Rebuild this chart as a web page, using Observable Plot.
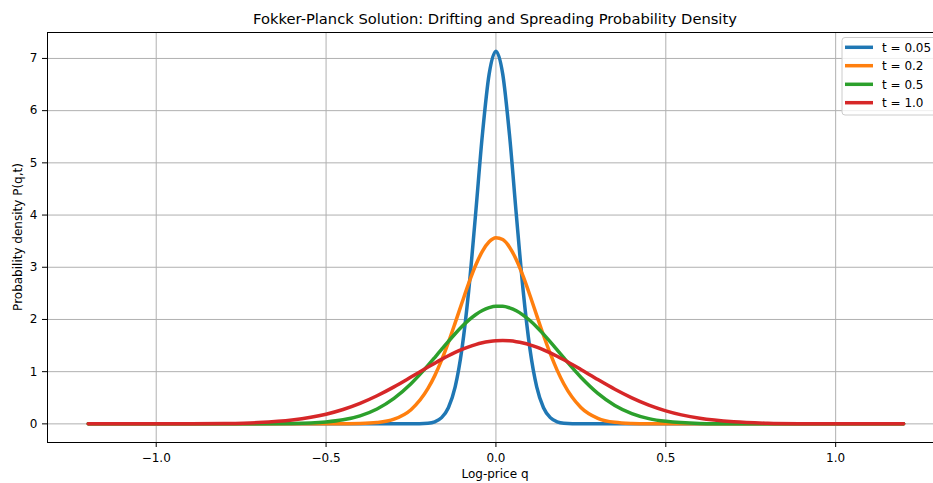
<!DOCTYPE html>
<html><head><meta charset="utf-8">
<script src="https://cdn.jsdelivr.net/npm/d3@7"></script>
<script src="https://cdn.jsdelivr.net/npm/@observablehq/plot@0.6"></script>
<style>body{margin:0;background:#fff} svg{display:block}</style>
</head><body><div id="chart"></div>
<script>
const titleText = "Fokker-Planck Solution: Drifting and Spreading Probability Density";
const xLabel = "Log-price q";
const yLabel = "Probability density P(q,t)";
const seriesLabels = ["t = 0.05", "t = 0.2", "t = 0.5", "t = 1.0"];
const colors = ["#1f77b4", "#ff7f0e", "#2ca02c", "#d62728"];
const xTicks = [-1.0, -0.5, 0.0, 0.5, 1.0];
const yTicks = [0, 1, 2, 3, 4, 5, 6, 7];

const q = [-1.2, -1.0, -0.9, -0.8, -0.7, -0.6, -0.5, -0.45, -0.4, -0.35, -0.3, -0.25,
  -0.2, -0.18, -0.16, -0.14, -0.12, -0.1, -0.08, -0.06, -0.04, -0.02, 0,
  0.02, 0.04, 0.06, 0.08, 0.1, 0.12, 0.14, 0.16, 0.18, 0.2,
  0.25, 0.3, 0.35, 0.4, 0.45, 0.5, 0.6, 0.7, 0.8, 0.9, 1.0, 1.2];

const pT005 = [0, 0, 0, 0, 0, 0, 0, 0, 0, 0, 0, 0,
  0.012, 0.040, 0.119, 0.31, 0.71, 1.44, 2.56, 4.01, 5.53, 6.70, 7.14,
  6.70, 5.53, 4.01, 2.56, 1.44, 0.71, 0.31, 0.119, 0.040, 0.012,
  0, 0, 0, 0, 0, 0, 0, 0, 0, 0, 0, 0];

const pT02 = [0, 0, 0, 0, 0, 0, 0, 0.001, 0.005, 0.024, 0.089, 0.271,
  0.678, 0.924, 1.220, 1.561, 1.934, 2.319, 2.695, 3.033, 3.305, 3.488, 3.566,
  3.531, 3.385, 3.144, 2.828, 2.463, 2.078, 1.698, 1.344, 1.030, 0.764,
  0.315, 0.107, 0.029, 0.007, 0.001, 0, 0, 0, 0, 0, 0, 0];

const pT05 = [0, 0, 0, 0.0001, 0.0007, 0.006, 0.036, 0.077, 0.154, 0.286, 0.488, 0.769,
  1.119, 1.271, 1.426, 1.579, 1.727, 1.864, 1.986, 2.090, 2.171, 2.226, 2.254,
  2.253, 2.223, 2.167, 2.084, 1.979, 1.856, 1.718, 1.570, 1.417, 1.262,
  0.894, 0.585, 0.353, 0.197, 0.101, 0.048, 0.0085, 0.0011, 0.0001, 0, 0, 0];

const pT10 = [0, 0.0004, 0.0019, 0.0075, 0.0256, 0.0746, 0.185, 0.275, 0.392, 0.538, 0.708, 0.896,
  1.088, 1.163, 1.236, 1.305, 1.368, 1.426, 1.476, 1.519, 1.553, 1.577, 1.592,
  1.596, 1.590, 1.574, 1.549, 1.514, 1.470, 1.419, 1.361, 1.296, 1.227,
  1.041, 0.848, 0.663, 0.499, 0.360, 0.250, 0.107, 0.039, 0.0121, 0.0032, 0.0007, 0];

const seriesValues = [pT005, pT02, pT05, pT10];
const rows = [];
seriesValues.forEach((arr, i) => arr.forEach((v, j) => rows.push({q: q[j], p: v, s: seriesLabels[i]})));

const xDomain = [-1.32, 1.288];
const yDomain = [-0.357, 7.497];

const chart = Plot.plot({
  width: 933, height: 483,
  marginLeft: 47, marginRight: 0, marginTop: 32, marginBottom: 41,
  style: {fontFamily: "DejaVu Sans", fontSize: "12px", background: "#fff", color: "#000", overflow: "visible"},
  x: {domain: xDomain},
  y: {domain: yDomain},
  color: {domain: seriesLabels, range: colors},
  marks: [
    Plot.gridX(xTicks, {stroke: "#b0b0b0", strokeOpacity: 1, strokeWidth: 1}),
    Plot.gridY(yTicks, {stroke: "#b0b0b0", strokeOpacity: 1, strokeWidth: 1}),
    Plot.line(rows, {x: "q", y: "p", z: "s", stroke: "s", strokeWidth: 3.5, curve: "monotone-x"}),
    Plot.ruleX([xDomain[0]], {stroke: "#000", strokeWidth: 1}),
    Plot.ruleY([yDomain[0], yDomain[1]], {stroke: "#000", strokeWidth: 1}),
    Plot.axisX(xTicks, {tickFormat: d3.format(".1f"), tickSize: 5, tickPadding: 6, label: null}),
    Plot.axisY(yTicks, {tickFormat: d3.format("d"), tickSize: 5, tickPadding: 5, label: null})
  ]
});
document.getElementById("chart").appendChild(chart);

const svg = d3.select(chart);
svg.append("text").attr("x", 495).attr("y", 24).attr("text-anchor", "middle")
  .attr("font-size", "14.7px").attr("fill", "#000").text(titleText);
svg.append("text").attr("x", 495).attr("y", 478).attr("text-anchor", "middle")
  .attr("font-size", "12px").attr("fill", "#000").text(xLabel);
svg.append("text").attr("transform", "translate(22,237) rotate(-90)").attr("text-anchor", "middle")
  .attr("font-size", "12px").attr("fill", "#000").text(yLabel);

const lg = svg.append("g");
lg.append("rect").attr("x", 842).attr("y", 37.5).attr("width", 110).attr("height", 77.5).attr("rx", 3)
  .attr("fill", "#fff").attr("fill-opacity", 0.8).attr("stroke", "#cccccc").attr("stroke-width", 1);
const rowsY = [47.3, 65.7, 84.3, 102.7];
seriesLabels.forEach((lab, i) => {
  lg.append("line").attr("x1", 845).attr("x2", 873).attr("y1", rowsY[i]).attr("y2", rowsY[i])
    .attr("stroke", colors[i]).attr("stroke-width", 3.5);
  lg.append("text").attr("x", 882).attr("y", rowsY[i]).attr("dy", "0.35em").attr("text-anchor", "start")
    .attr("font-size", "12px").attr("fill", "#000").text(lab);
});
</script>
</body></html>
